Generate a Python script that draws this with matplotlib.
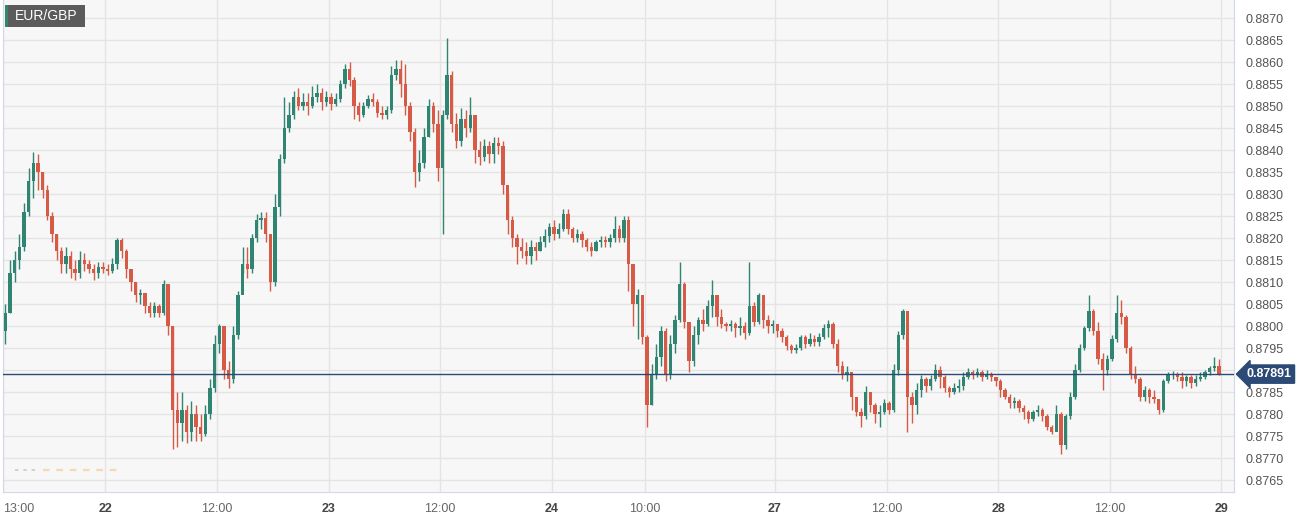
import matplotlib
matplotlib.use("Agg")
import matplotlib.pyplot as plt
from matplotlib.patches import Rectangle
import numpy as np

plt.rcParams["font.family"] = ["Liberation Sans", "DejaVu Sans"]

## Data: EUR/GBP 30-min candles, prices in pips above 0.8700
BASE = 0.8700
PIP = 0.0001
first_open = 99
closes = [
    103, 112, 115, 118, 126, 133, 137, 135, 131, 125,
    121, 117, 114, 116, 113, 112, 115, 114, 113, 112,
    113.5, 113, 112.5, 114, 119.5, 117, 113, 110, 107, 107.5,
    104.5, 103, 104.5, 103, 109.5, 100, 81, 78, 81, 76,
    80, 77, 75.5, 80, 86, 96, 100, 90, 88, 98,
    107, 114, 113, 120, 124, 124.5, 121, 110, 127, 138,
    145, 148, 152, 150, 151, 150, 152, 153, 151, 152,
    150.5, 151.5, 155, 158.5, 156, 150, 148, 150, 151.5, 151,
    148.5, 148, 149, 157, 158.5, 155, 150, 144, 135, 137,
    143, 150, 146, 136, 148, 157, 146, 142, 147, 145,
    148, 140, 138.5, 141, 139, 141.5, 141, 132, 124, 120,
    118, 117, 116, 118, 117, 119, 120.5, 122.5, 121, 122,
    125.5, 122, 120, 121, 119.5, 118, 117, 119, 119.5, 119,
    120, 122, 120, 124, 114, 105, 107, 97.5, 82, 89,
    93, 99, 89, 96, 101.5, 109.5, 101, 92, 98, 101.5,
    100.5, 104.5, 107, 102, 100.5, 100, 100.5, 99.5, 100, 98.5,
    104.5, 101, 107, 101.5, 100, 100.5, 99, 97.5, 95.5, 94.5,
    95, 97.5, 96, 97, 96.5, 97.5, 99.5, 100.5, 96, 91,
    89, 89.5, 84, 80.5, 79.5, 85, 82, 80, 80.5, 82.5,
    81, 90, 98, 103.5, 84, 82, 85.5, 88, 86.5, 88,
    90, 88.5, 86, 85, 86, 86.5, 88.5, 89.5, 89, 89.5,
    88.5, 89, 88.5, 87.5, 85.5, 84, 82.5, 83, 81.5, 80.5,
    79, 80.5, 81, 79.5, 77, 76, 80, 73, 79.5, 84,
    90, 95, 99.5, 103.5, 99, 92.5, 90, 92.5, 97, 103,
    102, 95, 89, 88, 84, 85.5, 84, 83.5, 81, 87.5,
    89, 89, 88.5, 87.5, 88.5, 87, 88, 88.5, 89.5, 90.5,
    91, 89.1,
]
highs = [
    105, 115, 117, 121, 128, 136, 139.5, 139, 135, 132,
    126, 121, 118, 118, 117, 115, 117, 116.5, 115, 114,
    114.5, 114.5, 114, 115.5, 120, 120, 117.5, 112, 110, 108.5,
    107, 105.5, 105.5, 105, 110.5, 109.5, 100, 85, 85, 82,
    83, 82, 80, 82, 88, 98, 100.5, 100, 92, 100,
    108, 118, 118, 121, 125.5, 126, 126, 121, 130, 139,
    152, 151, 153.5, 154, 153, 153, 154.5, 155, 154, 153.5,
    153, 153, 156, 159.5, 160, 156.5, 151, 151, 152.5, 153,
    151.5, 150, 150, 159, 160.5, 160.5, 159.5, 151, 145, 140,
    145, 151.5, 151, 149, 149, 165.5, 158, 148.5, 149.5, 149,
    152, 148, 142, 142.5, 142, 143, 143, 142, 130, 125,
    121, 120, 119, 119.5, 119, 120.5, 122, 123.5, 124, 123.5,
    126.5, 126.5, 122.5, 122, 121.5, 120, 119, 119.5, 120.5, 120.5,
    121, 125, 123, 125, 125, 109, 108.5, 106, 98, 91.5,
    96, 100, 99.5, 98, 102.5, 114.5, 110, 101, 100, 102,
    104, 106, 110.5, 106, 104, 101, 101.5, 101, 102, 101,
    114.5, 105.5, 107.5, 105, 102.5, 101.5, 100.5, 99.5, 98, 96,
    96, 98, 98, 98.5, 98, 98.5, 100.5, 101.5, 101, 97,
    92, 91, 89, 84, 81.5, 86.5, 85, 82.5, 82, 83.5,
    83, 91.5, 99, 104, 103.5, 85, 87, 89, 88.5, 89,
    91.5, 91, 89, 86.5, 87, 88, 89.5, 90.5, 90, 90.5,
    90, 90, 89.5, 88.5, 88, 86, 84.5, 84, 83.5, 82,
    81, 81, 82, 81.5, 80, 77.5, 82, 80.5, 80, 85,
    91.5, 96, 100, 107, 104, 101, 94, 93.5, 98, 107,
    106, 102.5, 95.5, 91, 88.5, 86.5, 86, 85.5, 83.5, 88,
    89.5, 89.8, 89.5, 89.5, 89, 89, 89, 89.5, 90, 91,
    93, 92.5,
]
lows = [
    96, 103, 110, 113, 117, 125, 129, 131, 129, 124,
    119, 115, 112, 112, 111, 110.5, 111, 112.5, 112, 110.5,
    111, 112, 111.5, 112, 113, 115.5, 111, 108, 105.5, 105,
    103, 102, 102, 102, 102.5, 98, 72, 72.5, 74, 73.5,
    74, 74, 74, 75, 79, 85, 94, 88, 86, 87,
    97, 112, 111, 112, 119, 122, 119, 108, 109, 125,
    137, 144, 147, 149, 149, 148, 149.5, 151, 149, 150,
    149, 150, 151, 154, 154.5, 147, 146.5, 147.5, 149.5, 150,
    147.5, 147, 147, 148.5, 156, 152, 148, 142, 131.5, 133,
    136, 143, 144, 133, 121, 147, 144, 140.5, 141, 143,
    144, 137, 136.5, 137.5, 137, 137, 139, 130, 121, 118,
    114, 115.5, 114, 114, 115, 117, 118, 119, 119.5, 120,
    121.5, 121, 119, 119, 118, 117, 116, 117, 118, 118,
    118, 119, 119, 119, 108, 100, 97, 96, 77, 82,
    88, 91, 87.5, 88, 94, 101, 99.5, 89.5, 91, 96,
    99, 100, 102, 100, 99.5, 99, 99, 97.5, 98, 97,
    98, 100, 100.5, 99.5, 98.5, 98.5, 97.5, 96.5, 94.5, 94,
    94, 94.5, 95, 95.5, 95.5, 95.5, 97, 97.5, 95, 89.5,
    88, 87.5, 81, 79.5, 77, 79, 80.5, 78, 77, 80,
    80, 80.5, 89, 97, 76, 78, 80, 84, 85, 85.5,
    87.5, 86, 85, 84, 84.5, 85, 85.5, 88, 88, 88.5,
    87.5, 88, 87.5, 86.5, 84, 83.5, 81.5, 81.5, 80.5, 79,
    78, 78.5, 79.5, 78.5, 76.5, 75.5, 76.5, 71, 72, 79,
    83.5, 89.5, 94.5, 99, 98, 91.5, 85.5, 89, 92, 96.5,
    100.5, 94, 88, 87, 83, 83, 82.5, 82.5, 80, 80.5,
    87, 88, 87.5, 86, 86.5, 86, 86.5, 87.5, 88, 89,
    89.8, 88.9,
]
# x-axis: candle index where each label's time starts
tick_candles = [0, 22, 46, 70, 94, 118, 138, 166, 190, 214, 238, 262]
tick_labels = ["13:00", "22", "12:00", "23", "12:00", "24", "10:00",
               "27", "12:00", "28", "12:00", "29"]
last_price = 0.87891
# faint dashed indicator near bottom-left (pips, candle span)
dash_level = 67.3
dash_gray_span = (2, 7)
dash_peach_span = (8, 25)

## Build OHLC arrays
c = BASE + np.array(closes) * PIP
h = BASE + np.array(highs) * PIP
l = BASE + np.array(lows) * PIP
o = np.concatenate([[BASE + first_open * PIP], c[:-1]])
idx = np.arange(len(c))
up = c >= o

GREEN = "#2f8572"
RED = "#d65a46"
NAVY = "#2b4a75"

fig = plt.figure(figsize=(13.06, 5.17), dpi=100)
ax = fig.add_axes([0.0023, 0.048, 0.9425, 0.952])
ax.set_facecolor("#f7f7f7")
fig.patch.set_facecolor("white")

# candles
cols = np.where(up, GREEN, RED)
ax.vlines(idx, l, h, colors=cols, linewidth=1.0, zorder=3)
bottoms = np.minimum(o, c)
heights = np.maximum(np.abs(c - o), 0.000008)
ax.bar(idx, heights, bottom=bottoms, width=0.72, color=cols, linewidth=0, zorder=4)

# dashed marks bottom-left
ax.hlines(BASE + dash_level * PIP, *dash_gray_span, colors="#c9c9c9",
          linestyles=(0, (2, 3)), linewidth=1.2, zorder=2)
ax.hlines(BASE + dash_level * PIP, *dash_peach_span, colors="#f6d9b4",
          linestyles=(0, (3, 3)), linewidth=1.6, zorder=2)

# last price line
ax.axhline(last_price, color=NAVY, linewidth=1.0, zorder=5)

# axes limits / ticks
ax.set_xlim(-0.52, 264.2)
ax.set_ylim(0.876227, 0.887409)
yt = np.arange(0.8765, 0.88701, 0.0005)
ax.set_yticks(yt)
ax.set_yticklabels(["" if abs(v - 0.8790) < 1e-6 else f"{v:.4f}" for v in yt])
ax.yaxis.tick_right()
ax.tick_params(axis="y", length=0, pad=8, labelsize=9, labelcolor="#555555")
ax.set_xticks(np.array(tick_candles) - 0.5)
ax.set_xticklabels(tick_labels)
ax.tick_params(axis="x", length=0, pad=8, labelsize=9, labelcolor="#666666")
for lab in ax.get_xticklabels():
    if ":" not in lab.get_text():
        lab.set_fontweight("bold")
        lab.set_color("#444444")
xl = ax.get_xticklabels()
xl[0].set_horizontalalignment("left")
ax.grid(True, color="#e4e4e4", linewidth=1.0, zorder=0)
ax.set_axisbelow(True)
for s in ax.spines.values():
    s.set_color("#d2d8e4")
ax.spines["top"].set_visible(False)

# last price tag
ax.annotate(f"{last_price:.5f}", xy=(1.0, last_price), xycoords=("axes fraction", "data"),
            xytext=(9, 0), textcoords="offset points", ha="left", va="center",
            color="white", fontsize=9, fontweight="bold",
            bbox=dict(boxstyle="larrow,pad=0.25", fc=NAVY, ec=NAVY))

# symbol label
fig.patches.append(Rectangle((5 / 1306, 1 - 27 / 517), 80 / 1306, 22 / 517,
                             transform=fig.transFigure, fc="#5b5b5b", ec="none", zorder=10))
fig.patches.append(Rectangle((5 / 1306, 1 - 27 / 517), 2.5 / 1306, 22 / 517,
                             transform=fig.transFigure, fc=GREEN, ec="none", zorder=11))
fig.text(46 / 1306, 1 - 16 / 517, "EUR/GBP", color="white", fontsize=10,
         ha="center", va="center", zorder=12)

fig.savefig("out.png", dpi=100)
